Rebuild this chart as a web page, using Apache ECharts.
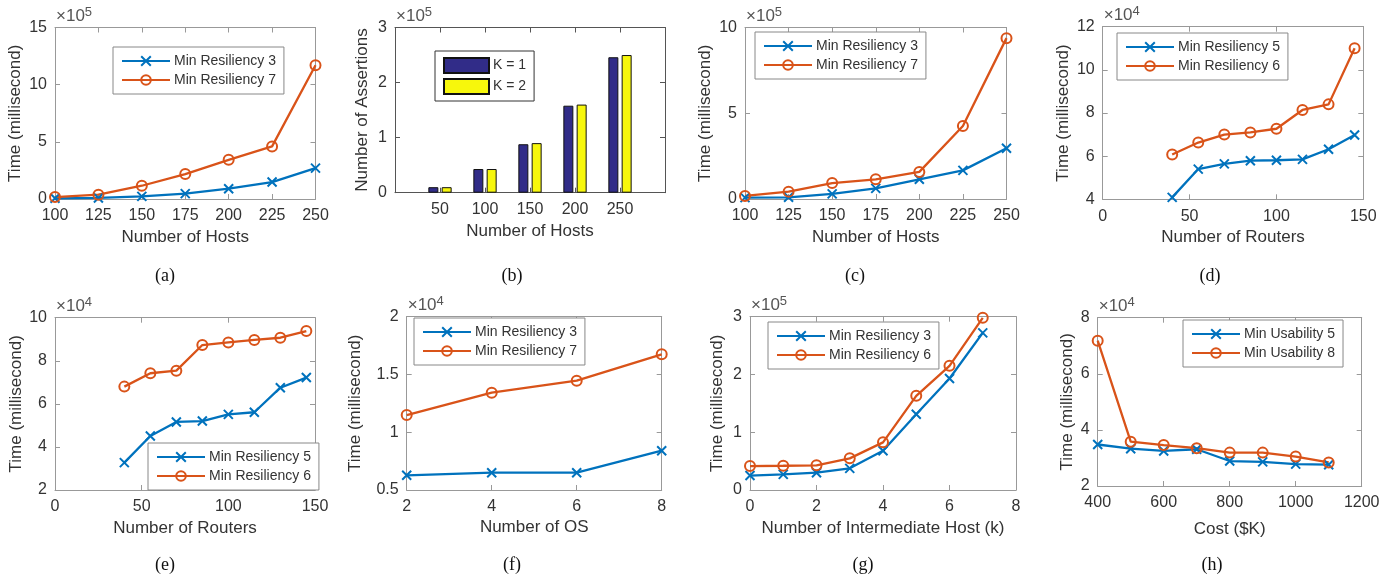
<!DOCTYPE html>
<html>
<head>
<meta charset="utf-8">
<script src="https://cdn.jsdelivr.net/npm/echarts@6/dist/echarts.min.js"></script>
<style>html,body{margin:0;padding:0;background:#fff}#c{width:1396px;height:579px}</style>
</head>
<body>
<div id="c"></div>
<script>
// ---- data (values in the units shown on each axis, i.e. times the axis exponent) ----
const hostsA = [100,125,150,175,200,225,250];
const aRes3 = [0.06,0.09,0.23,0.47,0.9,1.48,2.7];
const aRes7 = [0.17,0.38,1.16,2.18,3.43,4.6,11.7];
const hostsB = [50,100,150,200,250];
const bK1 = [0.1,0.43,0.88,1.58,2.46];
const bK2 = [0.1,0.43,0.9,1.6,2.5];
const hostsC = [100,125,150,175,200,225,250];
const cRes3 = [0.08,0.1,0.3,0.62,1.15,1.67,2.96];
const cRes7 = [0.18,0.43,0.93,1.15,1.58,4.26,9.38];
const routersD = [40,55,70,85,100,115,130,145];
const dRes5 = [4.09,5.4,5.64,5.79,5.81,5.85,6.32,6.98];
const dRes6 = [6.08,6.63,7.0,7.1,7.27,8.14,8.4,11.0];
const routersE = [40,55,70,85,100,115,130,145];
const eRes5 = [3.27,4.51,5.16,5.2,5.51,5.61,6.75,7.22];
const eRes6 = [6.8,7.42,7.54,8.73,8.85,8.97,9.07,9.38];
const osCount = [2,4,6,8];
const fRes3 = [0.627,0.65,0.65,0.84];
const fRes7 = [1.149,1.342,1.446,1.674];
const interHosts = [0,1,2,3,4,5,6,7];
const gRes3 = [0.25,0.27,0.3,0.375,0.68,1.31,1.93,2.72];
const gRes6 = [0.415,0.42,0.427,0.548,0.825,1.63,2.15,2.98];
const costK = [400,500,600,700,800,900,1000,1100];
const hUse5 = [3.48,3.33,3.25,3.31,2.89,2.86,2.78,2.76];
const hUse8 = [7.18,3.58,3.46,3.35,3.19,3.19,3.05,2.84];

const BLUE = '#0072BD', ORANGE = '#D95319';
const FONT = 'Liberation Sans, Arial, sans-serif';
const TXT = '#333';

const panels = [
  {grid:{left:55,top:27.5,width:260.5,height:171.5}, x:{min:100,max:250,interval:25,name:'Number of Hosts',gap:30}, y:{min:0,max:15,interval:5,name:'Time (millisecond)',gap:31}, exp:'5', legend:{left:113,top:47}, cap:'(a)', capX:165, capY:267,
   series:[['Min Resiliency 3',hostsA,aRes3,'x'],['Min Resiliency 7',hostsA,aRes7,'o']]},
  {grid:{left:395,top:27.5,width:270,height:165.2}, bar:true, x:{min:0,max:300,interval:50,name:'Number of Hosts',gap:30}, y:{min:0,max:3,interval:1,name:'Number of Assertions',gap:24}, exp:'5', legend:{left:435,top:51}, cap:'(b)', capX:512, capY:267,
   series:[['K = 1',hostsB,bK1,'#312c88'],['K = 2',hostsB,bK2,'#f7f70c']]},
  {grid:{left:745,top:27.5,width:261.5,height:171.5}, x:{min:100,max:250,interval:25,name:'Number of Hosts',gap:30}, y:{min:0,max:10,interval:5,name:'Time (millisecond)',gap:31}, exp:'5', legend:{left:755,top:32}, cap:'(c)', capX:855, capY:267,
   series:[['Min Resiliency 3',hostsC,cRes3,'x'],['Min Resiliency 7',hostsC,cRes7,'o']]},
  {grid:{left:1102.7,top:26.7,width:260.6,height:172.6}, x:{min:0,max:150,interval:50,name:'Number of Routers',gap:30}, y:{min:4,max:12,interval:2,name:'Time (millisecond)',gap:31}, exp:'4', legend:{left:1117,top:33}, cap:'(d)', capX:1210, capY:267,
   series:[['Min Resiliency 5',routersD,dRes5,'x'],['Min Resiliency 6',routersD,dRes6,'o']]},
  {grid:{left:55,top:317.7,width:260,height:172.3}, x:{min:0,max:150,interval:50,name:'Number of Routers',gap:30}, y:{min:2,max:10,interval:2,name:'Time (millisecond)',gap:30}, exp:'4', legend:{left:148,top:443}, cap:'(e)', capX:165, capY:556,
   series:[['Min Resiliency 5',routersE,eRes5,'x'],['Min Resiliency 6',routersE,eRes6,'o']]},
  {grid:{left:406.7,top:316.7,width:255,height:173.3}, x:{min:2,max:8,interval:2,name:'Number of OS',gap:29}, y:{min:0.5,max:2,interval:0.5,name:'Time (millisecond)',gap:43}, exp:'4', legend:{left:414,top:318}, cap:'(f)', capX:512, capY:556,
   series:[['Min Resiliency 3',osCount,fRes3,'x'],['Min Resiliency 7',osCount,fRes7,'o']]},
  {grid:{left:750,top:316.7,width:266,height:173.3}, x:{min:0,max:8,interval:2,name:'Number of Intermediate Host (k)',gap:30}, y:{min:0,max:3,interval:1,name:'Time (millisecond)',gap:24.5}, exp:'5', legend:{left:768,top:322}, cap:'(g)', capX:863, capY:556,
   series:[['Min Resiliency 3',interHosts,gRes3,'x'],['Min Resiliency 6',interHosts,gRes6,'o']]},
  {grid:{left:1097.7,top:317.7,width:264,height:168.3}, x:{min:400,max:1200,interval:200,name:'Cost ($K)',gap:35}, y:{min:2,max:8,interval:2,name:'Time (millisecond)',gap:22}, exp:'4', legend:{left:1183,top:320}, cap:'(h)', capX:1212, capY:556,
   series:[['Min Usability 5',costK,hUse5,'x'],['Min Usability 8',costK,hUse8,'o']]}
];

const grid = [], xAxis = [], yAxis = [], series = [], legend = [], title = [];
panels.forEach((p, i) => {
  const axCol = p.bar ? '#555' : '#999';
  grid.push(Object.assign({containLabel:false}, p.grid));
  const lineS = {lineStyle:{color:axCol,width:1}};
  const tick = {show:true,inside:true,length:5,lineStyle:{color:axCol,width:1}};
  const lbl = {fontSize:16,color:TXT,fontFamily:FONT};
  const nameStyle = {fontSize:17,color:TXT,fontFamily:FONT};
  xAxis.push({type:'value',gridIndex:i,position:'bottom',min:p.x.min,max:p.x.max,interval:p.x.interval,
    name:p.x.name,nameLocation:'middle',nameGap:p.x.gap,nameTextStyle:nameStyle,
    axisLine:Object.assign({show:true,onZero:false},lineS),axisTick:tick,splitLine:{show:false},
    axisLabel:Object.assign({margin:9,formatter:(v)=>(p.bar&&(v===p.x.min||v===p.x.max))?'':String(v)},lbl)});
  xAxis.push({type:'value',gridIndex:i,position:'top',min:p.x.min,max:p.x.max,interval:p.x.interval,
    axisLine:Object.assign({show:true,onZero:false},lineS),axisTick:tick,splitLine:{show:false},axisLabel:{show:false}});
  yAxis.push({type:'value',gridIndex:i,position:'left',min:p.y.min,max:p.y.max,interval:p.y.interval,
    name:p.y.name,nameLocation:'middle',nameGap:p.y.gap,nameTextStyle:nameStyle,
    axisLine:Object.assign({show:true,onZero:false},lineS),axisTick:tick,splitLine:{show:false},
    axisLabel:Object.assign({margin:8},lbl)});
  yAxis.push({type:'value',gridIndex:i,position:'right',min:p.y.min,max:p.y.max,interval:p.y.interval,
    axisLine:Object.assign({show:true,onZero:false},lineS),axisTick:tick,splitLine:{show:false},axisLabel:{show:false}});
  const names = [];
  p.series.forEach(s => {
    const [name, xs, ys, kind] = s;
    names.push(p.bar ? {name, icon:'rect'} : name);
    const data = xs.map((x, k) => [x, ys[k]]);
    if (p.bar) {
      series.push({type:'bar',name,xAxisIndex:2*i,yAxisIndex:2*i,data,barWidth:10,barGap:'33%',
        itemStyle:{color:kind,borderColor:'#111',borderWidth:1}});
    } else if (kind === 'x') {
      series.push({type:'line',name,xAxisIndex:2*i,yAxisIndex:2*i,data,
        symbol:'path://M0,0L10,10M10,0L0,10',symbolSize:9,
        lineStyle:{color:BLUE,width:2.3},itemStyle:{color:BLUE,borderColor:BLUE,borderWidth:2}});
    } else {
      series.push({type:'line',name,xAxisIndex:2*i,yAxisIndex:2*i,data,
        symbol:'circle',symbolSize:10,
        lineStyle:{color:ORANGE,width:2.3},itemStyle:{color:'rgba(255,255,255,0)',borderColor:ORANGE,borderWidth:2}});
    }
  });
  legend.push({data:names,left:p.legend.left,top:p.legend.top,orient:'vertical',
    itemWidth:p.bar?45:48,itemHeight:p.bar?15:12,itemGap:p.bar?4:5,padding:p.bar?[6,8,6,8]:[7,8,7,8],
    backgroundColor:'#fff',borderColor:p.bar?'#333':'#888',borderWidth:1,selectedMode:false,
    textStyle:{fontSize:14,color:TXT,fontFamily:FONT,padding:[0,0,0,-1]}});
  title.push({text:'×10{s|'+p.exp+'}',left:p.grid.left+1,top:p.grid.top-22,padding:0,
    textStyle:{fontSize:17,color:'#555',fontWeight:'normal',fontFamily:FONT,
      rich:{s:{fontSize:13,color:'#555',fontFamily:FONT,padding:[0,0,9,0]}}}});
  title.push({text:p.cap,left:p.capX,top:p.capY,textAlign:'center',padding:0,
    textStyle:{fontSize:18,color:'#111',fontWeight:'normal',fontFamily:'Liberation Serif, Times New Roman, serif'}});
});

const chart = echarts.init(document.getElementById('c'), null, {renderer:'canvas'});
chart.setOption({animation:false,backgroundColor:'#fff',title,grid,xAxis,yAxis,legend,series});
</script>
</body>
</html>
